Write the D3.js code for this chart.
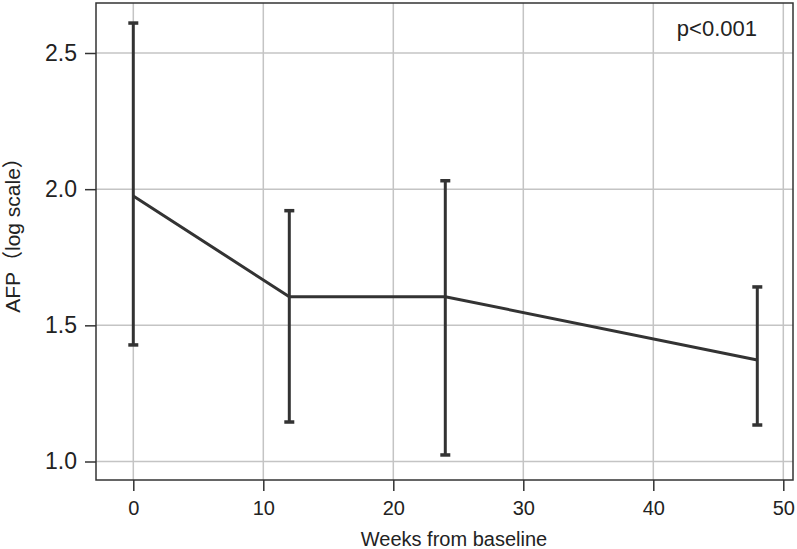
<!DOCTYPE html>
<html>
<head>
<meta charset="utf-8">
<script src="https://cdn.jsdelivr.net/npm/d3@7"></script>
<style>
  body { margin: 0; background: #fff; }
  text { font-family: "Liberation Sans", Arial, "Noto Sans CJK SC", sans-serif; fill: #222; }
</style>
</head>
<body>
<script>
// chart data
var weeks = [0, 12, 24, 48];
var afpMean = [1.975, 1.605, 1.605, 1.373];
var afpUpper = [2.61, 1.921, 2.031, 1.641];
var afpLower = [1.428, 1.145, 1.024, 1.134];
var xTicks = [0, 10, 20, 30, 40, 50];
var yTicks = [1.0, 1.5, 2.0, 2.5];

var svgWidth = 797;
var svgHeight = 549;
var margin = { top: 3, right: 4, bottom: 69, left: 96 };
var chartWidth = svgWidth - margin.left - margin.right;
var chartHeight = svgHeight - margin.top - margin.bottom;

var svg = d3.select("body").append("svg")
    .attr("width", svgWidth)
    .attr("height", svgHeight);

var chartGroup = svg.append("g")
    .attr("transform", `translate(${margin.left}, ${margin.top})`);

// scales: x(0)=133.3, x(50)=783 ; y(1)=461.5, y(2.5)=53
var xScale = d3.scaleLinear()
    .domain([0 - 37.3 / 13, 0 - 37.3 / 13 + chartWidth / 13])
    .range([0, chartWidth]);

var yScale = d3.scaleLinear()
    .domain([1.0, 2.5])
    .range([461.5 - margin.top, 53 - margin.top]);

// grid
chartGroup.append("g").selectAll("line.vgrid")
    .data(xTicks).enter().append("line")
    .attr("x1", d => xScale(d)).attr("x2", d => xScale(d))
    .attr("y1", 0).attr("y2", chartHeight)
    .attr("stroke", "#c4c4c4").attr("stroke-width", 1.5);

chartGroup.append("g").selectAll("line.hgrid")
    .data(yTicks).enter().append("line")
    .attr("x1", 0).attr("x2", chartWidth)
    .attr("y1", d => yScale(d)).attr("y2", d => yScale(d))
    .attr("stroke", "#c4c4c4").attr("stroke-width", 1.5);

// axes
var bottomAxis = d3.axisBottom(xScale)
    .tickValues(xTicks).tickSize(11).tickPadding(10).tickSizeOuter(0);
var leftAxis = d3.axisLeft(yScale)
    .tickValues(yTicks).tickFormat(d3.format(".1f")).tickSize(11).tickPadding(8).tickSizeOuter(0);

var gx = chartGroup.append("g")
    .attr("transform", `translate(0, ${chartHeight})`)
    .call(bottomAxis);
gx.select(".domain").remove();
gx.selectAll("line").attr("stroke", "#333").attr("stroke-width", 1.5);
gx.selectAll("text").attr("font-size", 20).attr("fill", "#222");

var gy = chartGroup.append("g").call(leftAxis);
gy.select(".domain").remove();
gy.selectAll("line").attr("stroke", "#333").attr("stroke-width", 1.5);
gy.selectAll("text").attr("font-size", 23).attr("fill", "#222");

// frame
chartGroup.append("rect")
    .attr("x", 0).attr("y", 0)
    .attr("width", chartWidth).attr("height", chartHeight)
    .attr("fill", "none").attr("stroke", "#333").attr("stroke-width", 1.5);

// error bars
var rows = weeks.map((w, i) => ({ week: w, mean: afpMean[i], lo: afpLower[i], hi: afpUpper[i] }));

chartGroup.selectAll(".errbar")
    .data(rows).enter().append("line")
    .classed("errbar", true)
    .attr("x1", d => xScale(d.week)).attr("x2", d => xScale(d.week))
    .attr("y1", d => yScale(d.lo)).attr("y2", d => yScale(d.hi))
    .attr("stroke", "#333").attr("stroke-width", 3);

chartGroup.selectAll(".caphi")
    .data(rows).enter().append("line")
    .classed("caphi", true)
    .attr("x1", d => xScale(d.week) - 5).attr("x2", d => xScale(d.week) + 5)
    .attr("y1", d => yScale(d.hi)).attr("y2", d => yScale(d.hi))
    .attr("stroke", "#333").attr("stroke-width", 3.5);

chartGroup.selectAll(".caplo")
    .data(rows).enter().append("line")
    .classed("caplo", true)
    .attr("x1", d => xScale(d.week) - 5).attr("x2", d => xScale(d.week) + 5)
    .attr("y1", d => yScale(d.lo)).attr("y2", d => yScale(d.lo))
    .attr("stroke", "#333").attr("stroke-width", 3.5);

// mean line
var meanLine = d3.line()
    .x(d => xScale(d.week))
    .y(d => yScale(d.mean));

chartGroup.append("path")
    .attr("d", meanLine(rows))
    .attr("fill", "none")
    .attr("stroke", "#333")
    .attr("stroke-width", 3);

// labels
svg.append("text")
    .attr("x", 454).attr("y", 546)
    .attr("text-anchor", "middle")
    .attr("font-size", 20)
    .text("Weeks from baseline");

svg.append("text")
    .attr("transform", "translate(20, 230) rotate(-90)")
    .attr("text-anchor", "middle")
    .attr("font-size", 21)
    .text("AFP（log scale）");

svg.append("text")
    .attr("x", 757).attr("y", 36)
    .attr("text-anchor", "end")
    .attr("font-size", 22)
    .text("p<0.001");
</script>
</body>
</html>
